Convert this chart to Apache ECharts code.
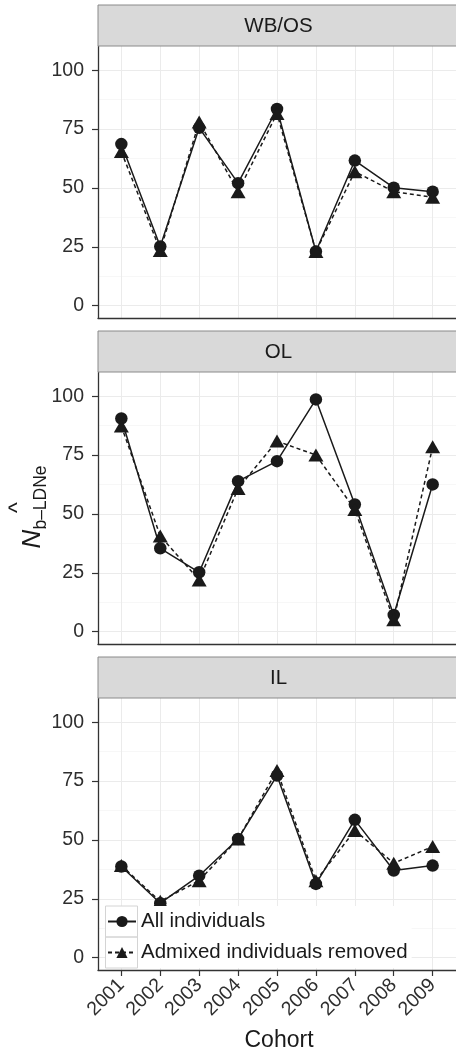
<!DOCTYPE html>
<html>
<head>
<meta charset="utf-8">
<script src="https://cdn.jsdelivr.net/npm/echarts@6/dist/echarts.min.js"></script>
<style>
html,body{margin:0;padding:0;background:#fff;}
#c{width:456px;height:1052px;}
</style>
</head>
<body>
<div id="c"></div>
<script>
const cohorts = [2001, 2002, 2003, 2004, 2005, 2006, 2007, 2008, 2009];
const panelNames = ['WB/OS', 'OL', 'IL'];
const yTicks = [0, 25, 50, 75, 100];
const yMinor = [12.5, 37.5, 62.5, 87.5];
const seriesNames = ['All individuals', 'Admixed individuals removed'];

const allWB = [68.6, 25.1, 75.5, 52.0, 83.5, 23.0, 61.6, 50.1, 48.4];
const admWB = [65.4, 23.4, 78.0, 48.4, 81.6, 23.0, 56.9, 48.4, 46.0];
const allOL = [90.5, 35.4, 25.2, 63.9, 72.4, 98.6, 54.0, 7.1, 62.5];
const admOL = [87.3, 40.6, 21.9, 60.8, 80.9, 75.0, 51.9, 5.0, 78.5];
const allIL = [38.7, 23.1, 34.8, 50.4, 77.3, 31.3, 58.5, 37.0, 39.1];
const admIL = [39.1, 23.9, 32.7, 50.4, 79.5, 32.7, 54.0, 40.1, 47.2];

const allVals = [allWB, allOL, allIL];
const admVals = [admWB, admOL, admIL];

const gridTops = [46, 372, 698];
const gridH = 272;
const gridLeft = 98;
const gridW = 361;
const stripH = 41;
const textColor = '#1a1a1a';
const axisTextColor = '#2e2e2e';
const FONT = 'Liberation Sans, Arial, sans-serif';

const grids = [], xAxes = [], yAxes = [], series = [], graphics = [];

gridTops.forEach((top, p) => {
  grids.push({left: gridLeft, top: top, width: gridW, height: gridH, containLabel: false});
  const isBottom = p === 2;
  xAxes.push({
    type: 'value', gridIndex: p, min: 2000.4, max: 2009.6,
    axisLine: {show: true, onZero: false, lineStyle: {color: '#333', width: 1.3}},
    axisTick: {show: isBottom, length: 6, customValues: cohorts, lineStyle: {color: '#333', width: 1.2}},
    axisLabel: {show: isBottom, customValues: cohorts, rotate: 45, margin: 12,
      fontSize: 19.5, color: axisTextColor, fontFamily: FONT,
      formatter: v => String(v)},
    splitLine: {show: true, lineStyle: {color: '#ebebeb', width: 1}}
  });
  yAxes.push({
    type: 'value', gridIndex: p, min: -5.25, max: 110.25,
    axisLine: {show: true, onZero: false, lineStyle: {color: '#333', width: 1.3}},
    axisTick: {show: true, length: 6, customValues: yTicks, lineStyle: {color: '#333', width: 1.2}},
    axisLabel: {show: true, customValues: yTicks, margin: 14, fontSize: 19.5, color: axisTextColor,
      fontFamily: FONT},
    splitLine: {show: true, lineStyle: {color: '#ebebeb', width: 1}}
  });
  // minor gridlines axis
  yAxes.push({
    type: 'value', gridIndex: p, min: -5.25, max: 110.25, position: 'left',
    axisLine: {show: false}, axisLabel: {show: false},
    axisTick: {show: false, customValues: yMinor},
    splitLine: {show: true, lineStyle: {color: '#f3f3f3', width: 0.7}}
  });

  series.push({
    name: seriesNames[0], type: 'line', xAxisIndex: p, yAxisIndex: p * 2,
    data: cohorts.map((c, i) => [c, allVals[p][i]]),
    symbol: 'circle', symbolSize: 12.5,
    lineStyle: {color: '#1a1a1a', width: 1.5, type: 'solid'},
    itemStyle: {color: '#1a1a1a'}, z: 3, animation: false
  });
  series.push({
    name: seriesNames[1], type: 'line', xAxisIndex: p, yAxisIndex: p * 2,
    data: cohorts.map((c, i) => [c, admVals[p][i]]),
    symbol: 'triangle', symbolSize: [15, 13],
    lineStyle: {color: '#1a1a1a', width: 1.5, type: [4, 3]},
    itemStyle: {color: '#1a1a1a'}, z: 4, animation: false
  });

  const stripTop = top - stripH;
  graphics.push({
    type: 'rect', shape: {x: gridLeft, y: stripTop, width: gridW + 4, height: stripH},
    style: {fill: '#d9d9d9', stroke: '#8a8a8a', lineWidth: 1}, z: 10
  });
  graphics.push({
    type: 'text', x: gridLeft + (2005 - 2000.4) / 9.2 * gridW, y: stripTop + stripH / 2 + 1,
    style: {text: panelNames[p], fill: textColor, fontSize: 20.5,
      fontFamily: FONT, align: 'center', verticalAlign: 'middle'},
    z: 11
  });
});

// y-axis title: N-hat subscript b-LDNe
graphics.push({
  type: 'text', x: 33, y: 539, rotation: Math.PI / 2,
  style: {text: 'N', fill: textColor, fontSize: 26, fontStyle: 'italic',
    fontFamily: FONT, align: 'center', verticalAlign: 'middle'}, z: 11
});
graphics.push({
  type: 'text', x: 41, y: 497.5, rotation: Math.PI / 2,
  style: {text: 'b\u2013LDNe', fill: textColor, fontSize: 17.5,
    fontFamily: FONT, align: 'center', verticalAlign: 'middle'}, z: 11
});
graphics.push({
  type: 'text', x: 19, y: 507.5, rotation: Math.PI / 2,
  style: {text: '^', fill: textColor, fontSize: 23,
    fontFamily: FONT, align: 'center', verticalAlign: 'middle'}, z: 11
});
// x-axis title
graphics.push({
  type: 'text', x: 279, y: 1041,
  style: {text: 'Cohort', fill: textColor, fontSize: 23,
    fontFamily: FONT, align: 'center', verticalAlign: 'middle'}, z: 11
});
// legend key boxes
graphics.push({type: 'rect', shape: {x: 105.5, y: 906, width: 32, height: 31},
  style: {fill: 'none', stroke: '#d4d4d4', lineWidth: 1}, z: 20});
graphics.push({type: 'rect', shape: {x: 105.5, y: 937, width: 32, height: 31},
  style: {fill: 'none', stroke: '#d4d4d4', lineWidth: 1}, z: 20});

const chart = echarts.init(document.getElementById('c'), null, {renderer: 'canvas'});
chart.setOption({
  animation: false,
  backgroundColor: '#ffffff',
  grid: grids,
  xAxis: xAxes,
  yAxis: yAxes,
  series: series,
  legend: {
    data: seriesNames, orient: 'vertical', left: 105, top: 906,
    itemWidth: 28, itemHeight: 14, itemGap: 0, padding: [0, 4, 0, 2],
    backgroundColor: '#ffffff',
    textStyle: {fontSize: 20.5, color: textColor, lineHeight: 31,
      fontFamily: FONT, padding: [0, 0, 0, 0]},
    z: 15
  },
  graphic: graphics
});
</script>
</body>
</html>
